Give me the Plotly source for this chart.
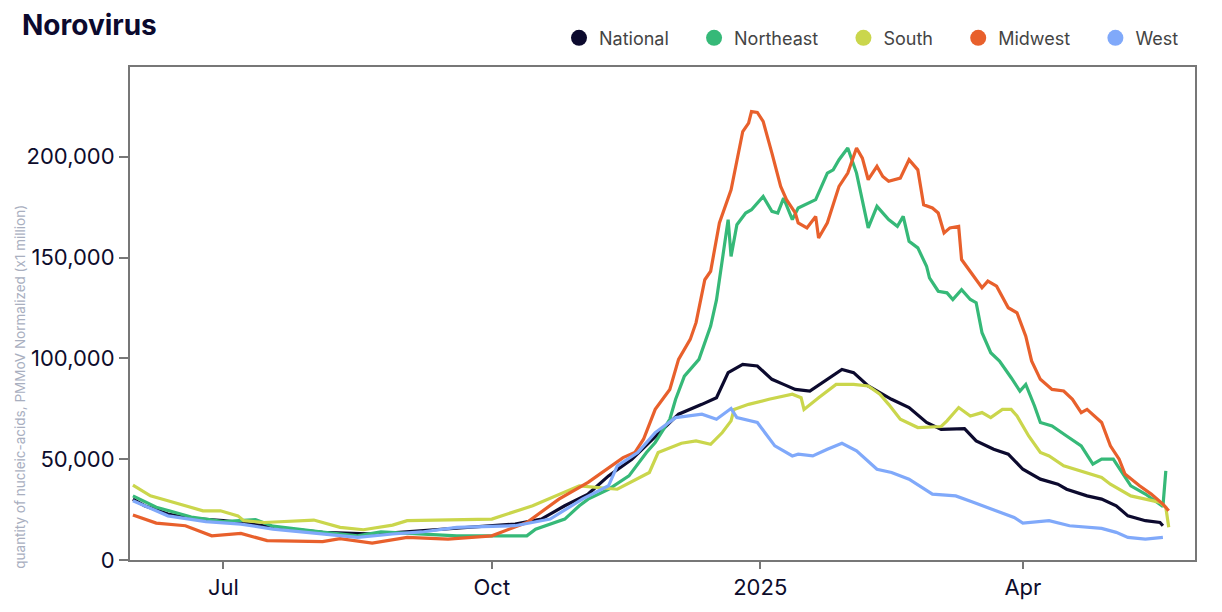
import plotly.graph_objects as go

# ---------------- data ----------------
national_dates = ["2024-05-31","2024-06-04","2024-06-12","2024-06-20","2024-07-01","2024-07-07","2024-07-18","2024-08-04","2024-08-22","2024-09-07","2024-09-19","2024-10-09","2024-10-18","2024-10-26","2024-11-03","2024-11-10","2024-11-18","2024-11-24","2024-12-01","2024-12-04","2024-12-12","2024-12-17","2024-12-21","2024-12-26","2024-12-31","2025-01-05","2025-01-09","2025-01-13","2025-01-18","2025-01-24","2025-01-29","2025-02-02","2025-02-07","2025-02-15","2025-02-21","2025-02-27","2025-03-04","2025-03-12","2025-03-16","2025-03-22","2025-03-27","2025-04-01","2025-04-07","2025-04-13","2025-04-16","2025-04-23","2025-04-28","2025-05-03","2025-05-07","2025-05-13","2025-05-18","2025-05-19"]
national_values = [30200,26900,22800,20600,19500,18600,16200,13700,12900,14500,15700,17800,20300,26900,32700,41700,50000,58300,68200,72300,77200,80500,92900,97000,96200,89600,87100,84600,83800,89600,94500,92900,86300,79700,75600,68200,64800,65200,59100,54900,52500,45000,40100,37600,35100,31800,30200,26900,21900,19500,18600,17000]

northeast_dates = ["2024-05-31","2024-06-08","2024-06-20","2024-07-01","2024-07-12","2024-07-18","2024-08-04","2024-08-16","2024-08-24","2024-09-07","2024-09-19","2024-10-13","2024-10-16","2024-10-26","2024-10-31","2024-11-03","2024-11-10","2024-11-17","2024-11-23","2024-11-26","2024-12-01","2024-12-03","2024-12-06","2024-12-11","2024-12-13","2024-12-15","2024-12-17","2024-12-19","2024-12-21","2024-12-22","2024-12-24","2024-12-27","2024-12-29","2025-01-02","2025-01-05","2025-01-07","2025-01-09","2025-01-12","2025-01-14","2025-01-20","2025-01-24","2025-01-26","2025-01-28","2025-01-31","2025-02-03","2025-02-07","2025-02-10","2025-02-14","2025-02-17","2025-02-19","2025-02-21","2025-02-24","2025-02-27","2025-02-28","2025-03-03","2025-03-06","2025-03-08","2025-03-11","2025-03-14","2025-03-16","2025-03-18","2025-03-21","2025-03-24","2025-03-28","2025-03-31","2025-04-02","2025-04-05","2025-04-07","2025-04-11","2025-04-16","2025-04-21","2025-04-25","2025-04-28","2025-05-02","2025-05-05","2025-05-08","2025-05-13","2025-05-18","2025-05-19","2025-05-20"]
northeast_values = [31800,26200,21300,19000,20000,16800,13900,12000,13900,12900,12000,12000,15300,20300,26900,30200,35100,41700,53300,58300,69800,79700,91200,99500,107800,116000,129000,149000,168800,150600,166300,172100,173700,180300,172900,172100,179500,168800,174600,178700,191900,193500,198500,204300,191900,164700,175400,168800,165500,170400,158100,154800,145700,139900,133300,132500,129200,134100,129200,127600,112700,102800,98700,90400,83800,87100,76400,68200,66500,61500,56600,47500,50000,50000,43400,36800,32700,27700,26500,44200]

south_dates = ["2024-05-31","2024-06-06","2024-06-12","2024-06-20","2024-06-24","2024-06-30","2024-07-06","2024-07-08","2024-07-15","2024-08-01","2024-08-10","2024-08-18","2024-08-28","2024-09-02","2024-09-19","2024-10-01","2024-10-15","2024-10-31","2024-11-13","2024-11-24","2024-11-27","2024-12-05","2024-12-10","2024-12-15","2024-12-19","2024-12-22","2024-12-23","2024-12-28","2025-01-04","2025-01-12","2025-01-15","2025-01-16","2025-01-21","2025-01-25","2025-01-27","2025-02-02","2025-02-07","2025-02-11","2025-02-14","2025-02-18","2025-02-24","2025-03-04","2025-03-06","2025-03-10","2025-03-14","2025-03-18","2025-03-21","2025-03-25","2025-03-28","2025-03-30","2025-04-03","2025-04-07","2025-04-10","2025-04-15","2025-04-21","2025-04-28","2025-05-01","2025-05-04","2025-05-08","2025-05-13","2025-05-18","2025-05-20","2025-05-21"]
south_values = [37100,31800,29400,26200,24400,24400,21900,19500,18600,19800,16200,15000,17300,19500,19800,20300,26900,36800,35100,43400,53300,57900,59100,57400,63200,69000,74700,77200,79700,82200,80500,74700,80500,84600,87100,87100,86300,82200,77200,69800,65700,66200,69000,75600,71400,73100,70600,74700,74700,71400,61500,53300,51600,46700,44200,40900,37600,35100,31800,30200,28600,26100,16200]

midwest_dates = ["2024-05-31","2024-06-08","2024-06-18","2024-06-27","2024-07-07","2024-07-16","2024-08-04","2024-08-10","2024-08-21","2024-09-02","2024-09-16","2024-10-01","2024-10-13","2024-10-24","2024-11-03","2024-11-07","2024-11-15","2024-11-19","2024-11-22","2024-11-26","2024-12-01","2024-12-04","2024-12-08","2024-12-10","2024-12-12","2024-12-13","2024-12-15","2024-12-17","2024-12-18","2024-12-22","2024-12-24","2024-12-26","2024-12-28","2024-12-29","2024-12-31","2025-01-02","2025-01-05","2025-01-08","2025-01-10","2025-01-13","2025-01-14","2025-01-17","2025-01-20","2025-01-21","2025-01-24","2025-01-28","2025-01-31","2025-02-03","2025-02-05","2025-02-07","2025-02-10","2025-02-12","2025-02-14","2025-02-18","2025-02-21","2025-02-24","2025-02-26","2025-03-01","2025-03-03","2025-03-05","2025-03-07","2025-03-10","2025-03-11","2025-03-15","2025-03-18","2025-03-20","2025-03-23","2025-03-27","2025-03-30","2025-04-02","2025-04-04","2025-04-07","2025-04-11","2025-04-15","2025-04-18","2025-04-21","2025-04-23","2025-04-28","2025-05-01","2025-05-04","2025-05-06","2025-05-11","2025-05-15","2025-05-19","2025-05-21"]
midwest_values = [22300,18300,17000,12000,13200,9600,9100,10600,8400,11200,10400,12000,18600,30200,38500,42600,50800,53300,59900,74700,84600,99500,109400,117700,132500,139000,143200,160500,167200,183600,198500,212500,216700,222400,222000,217500,201800,185300,178700,172100,167200,164700,170400,159700,167200,185300,191900,204300,199300,188600,195200,190200,187800,189400,198500,193500,176200,174600,172100,162200,164700,165500,149000,140700,135000,138300,135800,125100,122600,111000,98700,89600,84600,83800,79700,73100,74700,68200,56600,50000,42600,36800,32700,27700,24400]

west_dates = ["2024-05-31","2024-06-12","2024-06-25","2024-07-07","2024-07-18","2024-08-04","2024-08-16","2024-08-28","2024-09-07","2024-09-19","2024-10-09","2024-10-21","2024-11-01","2024-11-10","2024-11-13","2024-11-20","2024-11-26","2024-12-03","2024-12-12","2024-12-17","2024-12-22","2024-12-24","2024-12-31","2025-01-06","2025-01-12","2025-01-14","2025-01-19","2025-01-24","2025-01-29","2025-02-03","2025-02-10","2025-02-15","2025-02-21","2025-03-01","2025-03-09","2025-03-15","2025-03-23","2025-03-29","2025-04-01","2025-04-10","2025-04-17","2025-04-28","2025-05-03","2025-05-07","2025-05-13","2025-05-19"]
west_values = [29400,21900,19000,17800,15300,12900,11200,12900,13900,16200,17000,20300,30200,36800,46700,53300,63200,70600,72300,69800,75100,70600,68200,56600,51600,52500,51600,54900,57900,54100,45000,43400,40100,32700,31800,28600,24400,21100,18300,19500,17000,15700,13700,11200,10400,11200]

series_names = ["National", "Northeast", "South", "Midwest", "West"]
series_colors = ["#0c0a2e", "#36b978", "#cad64c", "#e8602c", "#80a9fa"]

tick_dates = ["2024-07-01", "2024-10-01", "2025-01-01", "2025-04-01"]
tick_labels = ["Jul", "Oct", "2025", "Apr"]
y_ticks = [0, 50000, 100000, 150000, 200000]

title_text = "Norovirus"
y_title_text = "quantity of nucleic-acids, PMMoV Normalized (x1 million)"

# ---------------- figure ----------------
all_dates = [national_dates, northeast_dates, south_dates, midwest_dates, west_dates]
all_values = [national_values, northeast_values, south_values, midwest_values, west_values]

W, H = 1214, 604          # page adds an 8px body margin
L, R, T, B = 122, 27, 59, 50
plot_w, plot_h = W - L - R, H - T - B

fig = go.Figure()
for name, color, d, v in zip(series_names, series_colors, all_dates, all_values):
    fig.add_trace(go.Scatter(x=d, y=v, mode="lines", name=name,
                             line=dict(color=color, width=3.2),
                             showlegend=False))
# legend entries with round markers (extra spacing between items)
for i, (name, color) in enumerate(zip(series_names, series_colors)):
    pad = "\u00a0" * 4 if i < len(series_names) - 1 else ""
    fig.add_trace(go.Scatter(x=[None], y=[None], mode="markers", name=name + pad,
                             marker=dict(color=color, size=18, symbol="circle"),
                             showlegend=True))

tick_font = dict(family="Inter, Lato, sans-serif", size=22, color="#0d0c2c")

fig.update_layout(
    width=W, height=H,
    margin=dict(l=L, r=R, t=T, b=B),
    paper_bgcolor="white", plot_bgcolor="white",
    title=dict(text="<b>" + title_text + "</b>", x=14 / W, xanchor="left",
               y=1 - 17 / H, yanchor="middle",
               font=dict(family="Inter, sans-serif", size=28, color="#0c0a2e")),
    legend=dict(orientation="h", x=(1176 - L) / plot_w, xanchor="right",
                y=(plot_h + T - 30) / plot_h, yanchor="middle",
                font=dict(family="Inter, sans-serif", size=18, color="#444444"),
                bgcolor="rgba(0,0,0,0)"),
    xaxis=dict(type="date", range=["2024-05-30", "2025-05-30"],
               tickvals=tick_dates, ticktext=tick_labels,
               ticks="outside", ticklen=7, tickcolor="#777777", tickwidth=1.5,
               showline=True, linecolor="#777777", linewidth=2, mirror=True,
               showgrid=False, zeroline=False, tickfont=tick_font),
    yaxis=dict(range=[0, 244500], tickvals=y_ticks, tickformat=",",
               ticks="outside", ticklen=9, tickcolor="#777777", tickwidth=1.5,
               showline=True, linecolor="#777777", linewidth=2, mirror=True,
               showgrid=False, zeroline=False, tickfont=tick_font),
    annotations=[dict(text=y_title_text, textangle=-90, showarrow=False,
                      xref="paper", yref="paper",
                      x=(12 - L) / plot_w, xanchor="center",
                      y=(H - B - 380) / plot_h, yanchor="middle",
                      font=dict(family="Inter, sans-serif", size=13.5, color="#a9afbf"))],
)

fig.write_html("out.html")
